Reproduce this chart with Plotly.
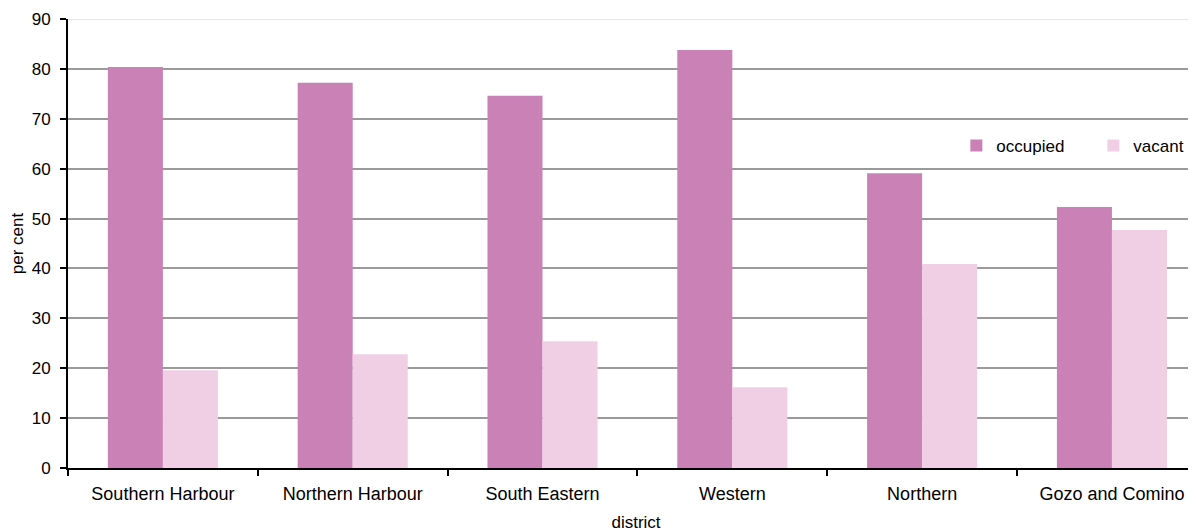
import plotly.graph_objects as go

districts = ["Southern Harbour", "Northern Harbour", "South Eastern", "Western", "Northern", "Gozo and Comino"]
occupied = [80.4, 77.2, 74.6, 83.8, 59.1, 52.3]
vacant = [19.6, 22.8, 25.4, 16.2, 40.9, 47.7]
y_ticks = [0, 10, 20, 30, 40, 50, 60, 70, 80, 90]

FONT = "Liberation Sans, Arial, sans-serif"

fig = go.Figure()
fig.add_trace(go.Bar(x=districts, y=occupied, name="occupied", marker=dict(color="#C981B6", line=dict(width=0))))
fig.add_trace(go.Bar(x=districts, y=vacant, name="vacant", marker=dict(color="#F0CFE4", line=dict(width=0))))

fig.update_layout(
    width=1196, height=530,
    margin=dict(l=60, r=0, t=11, b=70, autoexpand=False),
    paper_bgcolor="white", plot_bgcolor="white",
    barmode="group", bargap=0.42, bargroupgap=0,
    font=dict(family=FONT, size=17, color="black"),
    showlegend=True,
    legend=dict(orientation="h", x=0.782, y=0.717, xanchor="left", yanchor="middle",
                font=dict(family=FONT, size=17), entrywidth=92, entrywidthmode="pixels",
                bgcolor="rgba(0,0,0,0)", itemwidth=30, traceorder="normal"),
    xaxis=dict(
        range=[-0.5, 5.485], showline=True, linecolor="black", linewidth=2,
        ticks="outside", tickson="boundaries", ticklen=6, tickwidth=2, tickcolor="black",
        showgrid=False, tickfont=dict(size=18, family=FONT), automargin=False,
        ticklabelstandoff=8,
        title=dict(text="district", font=dict(size=17, family=FONT), standoff=14),
    ),
    yaxis=dict(
        range=[0, 90], tickvals=y_ticks, showline=True, linecolor="black", linewidth=2,
        ticks="outside", ticklen=6, tickwidth=2, tickcolor="black",
        showgrid=True, gridcolor="#9a9a9a", gridwidth=2, zeroline=False,
        tickfont=dict(size=17, family=FONT), automargin=False,
        ticklabelstandoff=6,
        title=dict(text="per cent", font=dict(size=17, family=FONT), standoff=12),
    ),
)

fig.add_shape(type="line", xref="paper", yref="y", x0=0, x1=1, y0=90, y1=90,
              line=dict(color="#e6e6e6", width=2), layer="above")

fig.write_html("out.html")
